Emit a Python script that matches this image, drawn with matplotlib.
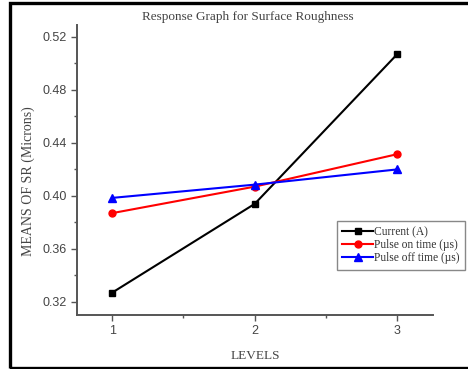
import matplotlib
matplotlib.use('Agg')
import matplotlib.pyplot as plt
from matplotlib.patches import Rectangle
from matplotlib.ticker import MultipleLocator

##### data #####
levels = [1, 2, 3]
current = [0.327, 0.394, 0.507]
pulse_on = [0.387, 0.407, 0.4315]
pulse_off = [0.3985, 0.4085, 0.420]
yticks = [0.32, 0.36, 0.40, 0.44, 0.48, 0.52]
##### data end #####

fig = plt.figure(figsize=(4.68, 3.69), dpi=100)
ax = fig.add_axes([0.1645, 0.1463, 0.7605, 0.786])

# outer frame (cut at right edge like the screenshot)
fig.patches.append(Rectangle((9.5 / 468, 0.8 / 369), 1.1, 365.5 / 369, transform=fig.transFigure,
                             fill=False, edgecolor='black', linewidth=2.4, clip_on=False))

ax.plot(levels, current, color='black', marker='s', markersize=5, linewidth=1.5, label='Current (A)')
ax.plot(levels, pulse_on, color='red', marker='o', markersize=5, linewidth=1.5, label='Pulse on time (\u00b5s)')
ax.plot(levels, pulse_off, color='blue', marker='^', markersize=5.5, linewidth=1.5, label='Pulse off time (\u00b5s)')

ax.set_xlim(0.753, 3.25)
ax.set_ylim(0.3101, 0.529)
ax.set_xticks(levels)
ax.set_yticks(yticks)
ax.set_yticklabels(['%.2f' % v for v in yticks])
ax.xaxis.set_minor_locator(MultipleLocator(0.5))
ax.yaxis.set_minor_locator(MultipleLocator(0.02))

for s in ['top', 'right']:
    ax.spines[s].set_visible(False)
for s in ['left', 'bottom']:
    ax.spines[s].set_color('#555555')
    ax.spines[s].set_linewidth(1.4)
ax.tick_params(which='major', direction='out', length=4, width=1, color='#555555',
               labelsize=9, labelcolor='#444444')
ax.tick_params(which='minor', direction='out', length=2.5, width=1, color='#555555')
for lab in ax.get_xticklabels() + ax.get_yticklabels():
    lab.set_family('Liberation Sans')

ax.set_xlabel('LEVELS', family='Liberation Serif', fontsize=9.5, color='#444444', labelpad=9)
fig.text(28 / 468, 1 - 181 / 369, 'MEANS OF SR (Microns)', family='Liberation Serif',
         fontsize=10, color='#444444', rotation=90, ha='center', va='center')
fig.text(248 / 468, 1 - 17 / 369, 'Response Graph for Surface Roughness', family='Liberation Serif',
         fontsize=9.5, color='#444444', ha='center', va='center')

leg = ax.legend(loc='upper left', bbox_to_anchor=((337 - 77) / 356, (315 - 221) / 290),
                prop={'family': 'Liberation Serif', 'size': 8.3}, fancybox=False, framealpha=1,
                edgecolor='#888888', handlelength=2.7, handletextpad=0.1, borderpad=0.45,
                labelspacing=0.1, borderaxespad=0)
leg.get_frame().set_linewidth(1)
for t in leg.get_texts():
    t.set_color('#333333')

plt.savefig('out.png', dpi=100)
